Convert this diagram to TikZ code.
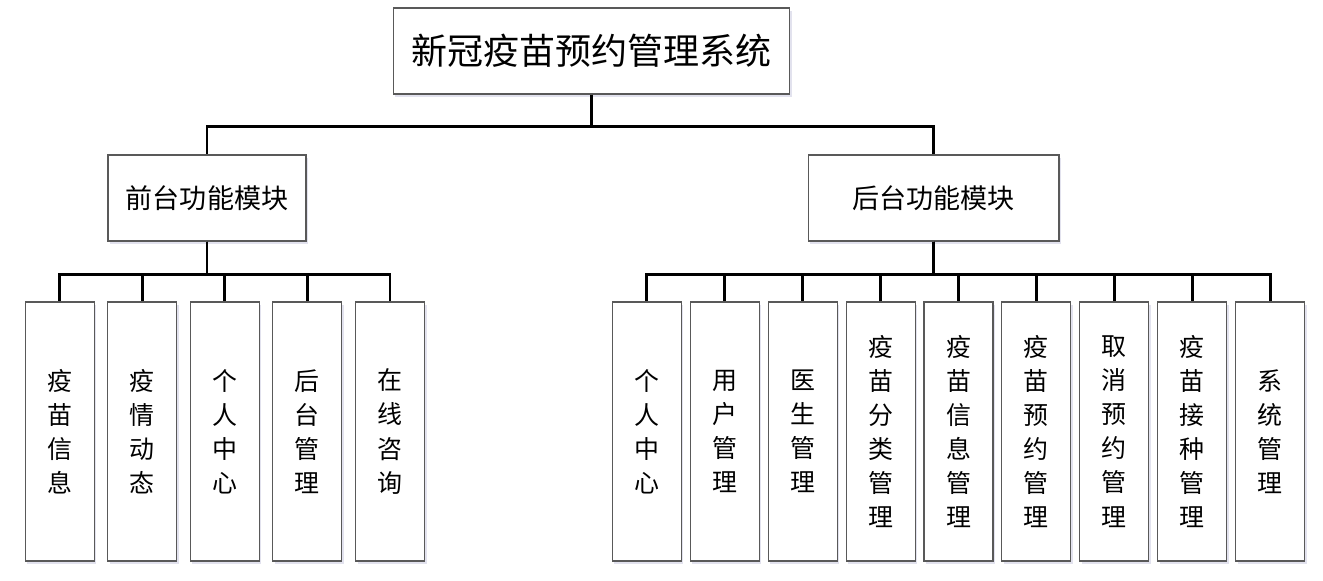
\documentclass[tikz,border=0pt]{standalone}
\usepackage{fontspec}
\newfontfamily\cjk{Noto Sans CJK SC}
\usetikzlibrary{positioning,shadows}

\tikzset{
    box/.style={draw=black!65, fill=white, line width=0.6pt, inner sep=0pt, align=center,
        drop shadow={shadow xshift=1.2pt, shadow yshift=-1.5pt, fill=blue!25!gray, opacity=0.18}},
    sysbox/.style={box, minimum width=7.94cm, minimum height=1.72cm, font=\cjk\fontsize{20.5pt}{24pt}\selectfont},
    modbox/.style={box, minimum height=1.72cm, font=\cjk\fontsize{15.4pt}{18pt}\selectfont},
    leaf/.style={box, minimum width=1.38cm, minimum height=5.18cm, font=\cjk\fontsize{14.2pt}{19.4pt}\selectfont},
    link/.style={line width=1.6pt, black}
}

\begin{document}
\begin{tikzpicture}[x=0.02cm, y=-0.02cm]
    \useasboundingbox (0,0) rectangle (1323,581);

    \node[sysbox] (root) at (591.5,51) {新冠疫苗预约管理系统};
    \node[modbox, minimum width=3.96cm] (front) at (207,198) {前台功能模块};
    \node[modbox, minimum width=5.02cm] (back) at (933.5,198) {后台功能模块};

    \node[leaf] (f1) at (59.75,431.5) {疫\\苗\\信\\息};
    \node[leaf, right=0.25cm of f1] (f2) {疫\\情\\动\\态};
    \node[leaf, right=0.25cm of f2] (f3) {个\\人\\中\\心};
    \node[leaf, right=0.25cm of f3] (f4) {后\\台\\管\\理};
    \node[leaf, right=0.25cm of f4] (f5) {在\\线\\咨\\询};

    \node[leaf] (b1) at (646.75,431.5) {个\\人\\中\\心};
    \node[leaf, right=0.158cm of b1] (b2) {用\\户\\管\\理};
    \node[leaf, right=0.158cm of b2] (b3) {医\\生\\管\\理};
    \node[leaf, right=0.158cm of b3] (b4) {疫\\苗\\分\\类\\管\\理};
    \node[leaf, right=0.158cm of b4] (b5) {疫\\苗\\信\\息\\管\\理};
    \node[leaf, right=0.158cm of b5] (b6) {疫\\苗\\预\\约\\管\\理};
    \node[leaf, right=0.158cm of b6] (b7) {取\\消\\预\\约\\管\\理};
    \node[leaf, right=0.158cm of b7] (b8) {疫\\苗\\接\\种\\管\\理};
    \node[leaf, right=0.158cm of b8] (b9) {系\\统\\管\\理};

    \draw[link] (root.south) -- ++(0,32) -| (front.north);
    \draw[link] (root.south) -- ++(0,32) -| (back.north);
    \foreach \i in {1,...,5}
        \draw[link] (front.south) -- ++(0,33) -| (f\i.north);
    \foreach \i in {1,...,9}
        \draw[link] (back.south) -- ++(0,33) -| (b\i.north);
\end{tikzpicture}
\end{document}
